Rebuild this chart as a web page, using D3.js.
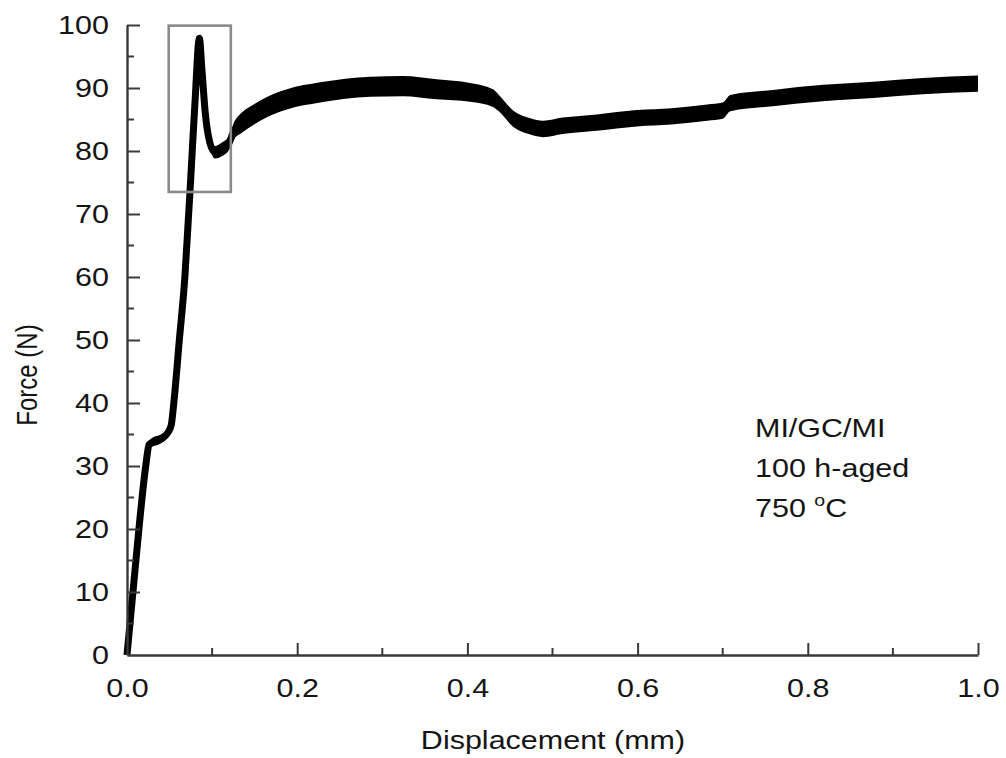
<!DOCTYPE html>
<html>
<head>
<meta charset="utf-8">
<script src="https://cdn.jsdelivr.net/npm/d3@7"></script>
<style>
  html, body { margin: 0; padding: 0; background: #fff; }
  svg { display: block; font-family: "Liberation Sans", Arial, sans-serif; }
</style>
</head>
<body>
<svg id="chart" width="1006" height="758"></svg>
<script>
// Force–displacement record (MI/GC/MI, 100 h-aged, 750 °C)
const displacement = [0, 0.007, 0.014, 0.022, 0.026, 0.030, 0.040, 0.048, 0.052, 0.055, 0.0615, 0.068, 0.072, 0.074,
  0.080, 0.085, 0.088, 0.092, 0.097, 0.103, 0.112, 0.120, 0.125, 0.135, 0.148, 0.165, 0.188, 0.227, 0.286, 0.324,
  0.364, 0.403, 0.430, 0.437, 0.454, 0.474, 0.489, 0.512, 0.552, 0.599, 0.640, 0.682, 0.700, 0.709, 0.759, 0.818,
  0.877, 0.935, 1.000];
const force = [0, 10, 20, 30, 33.4, 33.8, 34.3, 35.3, 36.5, 40, 50, 60, 69, 73.5,
  88, 97.9, 93, 86, 81.5, 79.8, 80.3, 81.3, 83.0, 84.5, 85.7, 87.0, 88.2, 89.3, 90.2, 90.3,
  89.8, 89.3, 88.4, 87.6, 85.1, 83.9, 83.5, 84.0, 84.5, 85.2, 85.5, 86.1, 86.4, 87.6, 88.4, 89.2,
  89.7, 90.3, 90.7];
// scatter half-width of the noisy record around the trace (N)
const scatter = [0.3, 0.3, 0.3, 0.3, 0.5, 0.7, 0.7, 0.7, 0.5, 0, 0, 0, 0, 0,
  0, 0, 0, 0, 0.4, 1.0, 1.1, 1.1, 1.3, 1.6, 1.6, 1.6, 1.6, 1.6, 1.6, 1.6,
  1.6, 1.5, 1.4, 1.3, 1.3, 1.3, 1.3, 1.3, 1.3, 1.3, 1.3, 1.3, 1.3, 1.3, 1.3, 1.3,
  1.3, 1.3, 1.3];

const xTicks = [0, 0.2, 0.4, 0.6, 0.8, 1.0];
const xMinor = [0.1, 0.3, 0.5, 0.7, 0.9];
const yTicks = [0, 10, 20, 30, 40, 50, 60, 70, 80, 90, 100];
const yMinor = [5, 15, 25, 35, 45, 55, 65, 75, 85, 95];

// zoom-in frame around the yield drop
const frameX = [0.049, 0.122];
const frameY = [73.5, 99.9];

const noteLines = ["MI/GC/MI", "100 h-aged"];

const svg = d3.select("#chart");
const x = d3.scaleLinear().domain([0, 1]).range([127, 978]);
const y = d3.scaleLinear().domain([0, 100]).range([655, 25]);

const axisColor = "#3a3a3a";
const textColor = "#141414";
const fontSize = 25;
const widen = 1.22;   // horizontal widening of the lettering

// place a text at its own anchor and widen it about that point
function widenText(sel, sx) {
  sel.each(function () {
    const t = d3.select(this);
    const tx = +t.attr("x") || 0, ty = +t.attr("y") || 0;
    t.attr("x", 0).attr("y", 0)
      .attr("transform", `translate(${tx},${ty}) scale(${sx},1)`);
  });
}

const pts = displacement.map((d, i) => ({ d, f: force[i], s: scatter[i] }));

// scatter band
svg.append("path")
  .datum(pts)
  .attr("fill", "#000")
  .attr("d", d3.area().curve(d3.curveMonotoneX)
    .x(p => x(p.d)).y0(p => y(p.f - p.s)).y1(p => y(p.f + p.s)));

// trace
svg.append("path")
  .datum(pts)
  .attr("fill", "none")
  .attr("stroke", "#000")
  .attr("stroke-width", 7)
  .attr("stroke-linejoin", "round")
  .attr("d", d3.line().curve(d3.curveMonotoneX).x(p => x(p.d)).y(p => y(p.f)));

// frame
svg.append("rect")
  .attr("x", x(frameX[0])).attr("y", y(frameY[1]))
  .attr("width", x(frameX[1]) - x(frameX[0]))
  .attr("height", y(frameY[0]) - y(frameY[1]))
  .attr("fill", "none").attr("stroke", "#8a8a8a").attr("stroke-width", 2.6);

// axes
const xAxis = d3.axisBottom(x).tickValues(xTicks).tickSizeInner(-12).tickSizeOuter(0)
  .tickFormat(d3.format(".1f")).tickPadding(24);
const gx = svg.append("g").attr("transform", "translate(0,655)").call(xAxis);
gx.selectAll(".tick").filter(d => d === 0).select("line").remove();
gx.selectAll(".tick line").attr("stroke", axisColor).attr("stroke-width", 2);
gx.select(".domain").attr("stroke", axisColor).attr("stroke-width", 2.4);
gx.selectAll("text").attr("font-size", fontSize).attr("fill", textColor)
  .attr("font-family", "Liberation Sans, Arial, sans-serif").call(widenText, widen);
gx.selectAll(".minor").data(xMinor).enter().append("line")
  .attr("x1", d => x(d)).attr("x2", d => x(d)).attr("y1", 0).attr("y2", -7)
  .attr("stroke", axisColor).attr("stroke-width", 2);

const yAxis = d3.axisLeft(y).tickValues(yTicks).tickSizeInner(-13).tickSizeOuter(0).tickPadding(18);
const gy = svg.append("g").attr("transform", "translate(127,0)").call(yAxis);
gy.selectAll(".tick").filter(d => d === 0).select("line").remove();
gy.selectAll(".tick line").attr("stroke", axisColor).attr("stroke-width", 2);
gy.select(".domain").attr("stroke", axisColor).attr("stroke-width", 2.4);
gy.selectAll("text").attr("font-size", fontSize).attr("fill", textColor)
  .attr("font-family", "Liberation Sans, Arial, sans-serif").call(widenText, widen);
gy.selectAll(".minor").data(yMinor).enter().append("line")
  .attr("x1", 0).attr("x2", 7).attr("y1", d => y(d)).attr("y2", d => y(d))
  .attr("stroke", axisColor).attr("stroke-width", 2);

// axis titles
svg.append("text").attr("x", 553).attr("y", 749).attr("text-anchor", "middle")
  .attr("font-size", fontSize).attr("fill", textColor).text("Displacement (mm)")
  .call(widenText, widen);
svg.append("text").attr("transform", `translate(37,375) rotate(-90) scale(1,${widen})`)
  .attr("text-anchor", "middle")
  .attr("font-size", 24).attr("fill", textColor).text("Force (N)");

// condition note
const note = svg.append("g").attr("font-size", fontSize).attr("fill", textColor);
noteLines.forEach((t, i) => note.append("text").attr("x", 755).attr("y", 437 + i * 40).text(t));
const t3 = note.append("text").attr("x", 755).attr("y", 517);
t3.append("tspan").text("750 ");
t3.append("tspan").attr("font-size", 16).attr("dy", -11).text("o");
t3.append("tspan").attr("dy", 11).text("C");
note.selectAll("text").call(widenText, widen);
</script>
</body>
</html>
